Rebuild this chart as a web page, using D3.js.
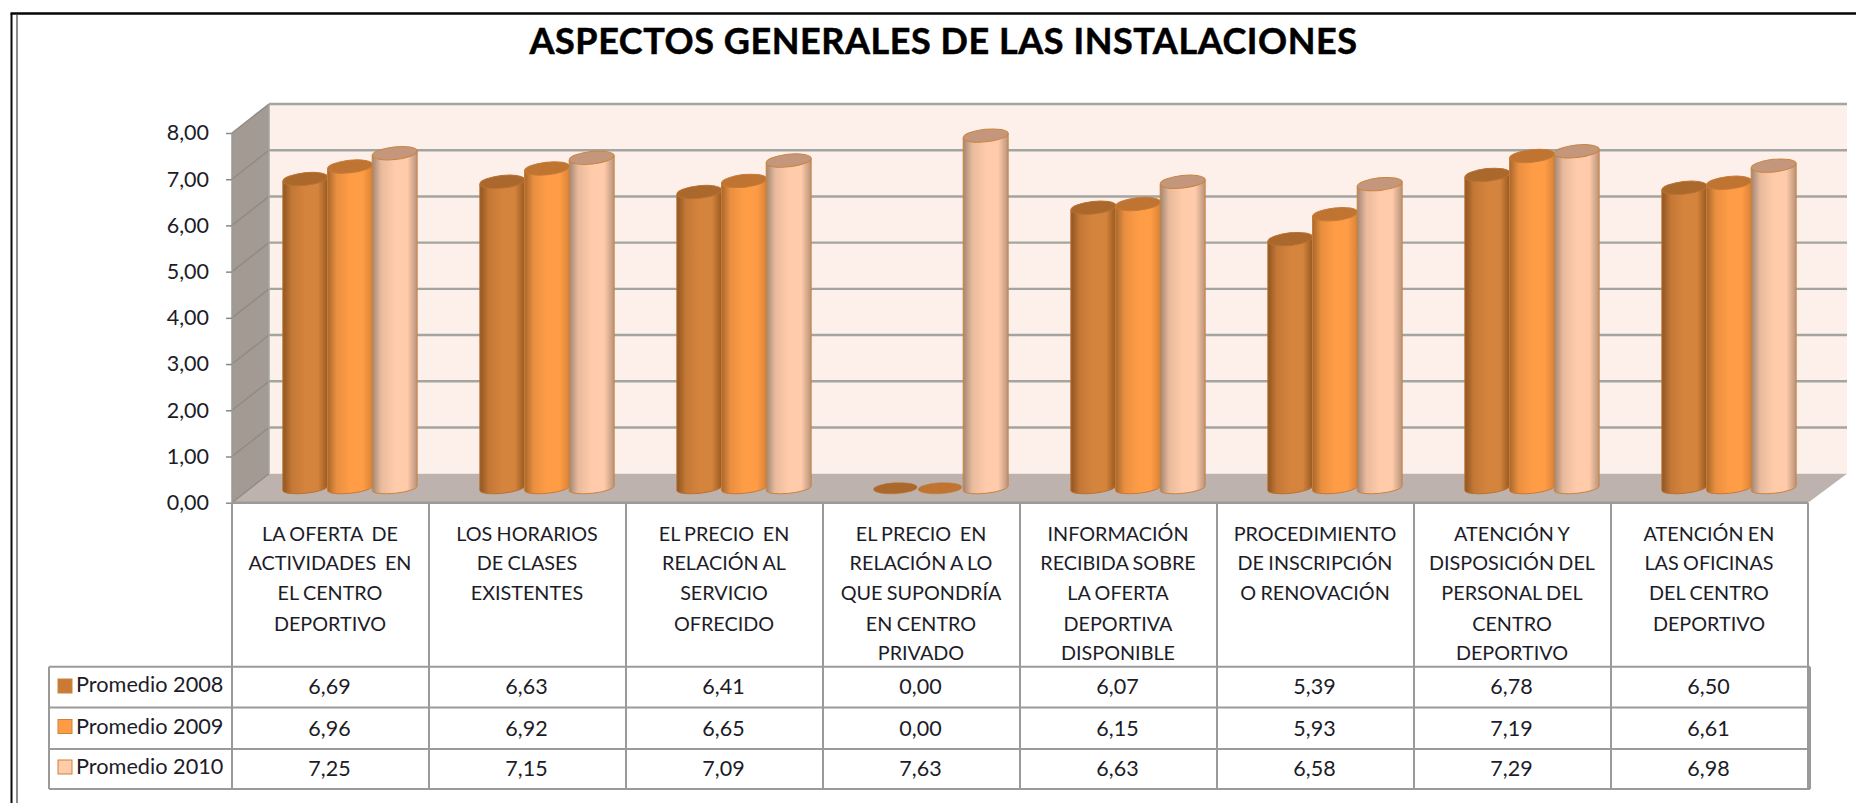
<!DOCTYPE html>
<html><head><meta charset="utf-8">
<style>
html,body{margin:0;padding:0;background:#fff;overflow:hidden}
svg{display:block}
text{font-family:Lato,"Open Sans",sans-serif;fill:#1c1c28}
</style>
<script src="https://cdn.jsdelivr.net/npm/d3@7/dist/d3.min.js"></script>
</head><body><svg id="c" width="1856" height="803"></svg>
<script>
const title = "ASPECTOS GENERALES DE LAS INSTALACIONES";
const categories = [
 ["LA OFERTA  DE","ACTIVIDADES  EN","EL CENTRO","DEPORTIVO"],
 ["LOS HORARIOS","DE CLASES","EXISTENTES"],
 ["EL PRECIO  EN","RELACIÓN AL","SERVICIO","OFRECIDO"],
 ["EL PRECIO  EN","RELACIÓN A LO","QUE SUPONDRÍA","EN CENTRO","PRIVADO"],
 ["INFORMACIÓN","RECIBIDA SOBRE","LA OFERTA","DEPORTIVA","DISPONIBLE"],
 ["PROCEDIMIENTO","DE INSCRIPCIÓN","O RENOVACIÓN"],
 ["ATENCIÓN Y","DISPOSICIÓN DEL","PERSONAL DEL","CENTRO","DEPORTIVO"],
 ["ATENCIÓN EN","LAS OFICINAS","DEL CENTRO","DEPORTIVO"]
];
const seriesNames = ["Promedio 2008","Promedio 2009","Promedio 2010"];
const promedio2008 = [6.69,6.63,6.41,0,6.07,5.39,6.78,6.50];
const promedio2009 = [6.96,6.92,6.65,0,6.15,5.93,7.19,6.61];
const promedio2010 = [7.25,7.15,7.09,7.63,6.63,6.58,7.29,6.98];
const seriesValues = [promedio2008,promedio2009,promedio2010];
const yTicks = [0,1,2,3,4,5,6,7,8];

const svg = d3.select("#c");
const fmt = v => d3.format(".2f")(v).replace(".",",");

// layout
const L=232,R=1808,Y0=502.7,Y8=133,DX=37,DY=29;
const rowLines=[666.7,707.5,749,789], tableL=49, tableR=1810;
const x = d3.scaleBand().domain(d3.range(categories.length)).range([L,R]);
const y = d3.scaleLinear().domain([0,8]).range([Y0,Y8]);
const inner = d3.scaleBand().domain(d3.range(3)).range([0,134]);

const palettes=[
 {edgeL:"#8f5522",mid:"#d5843d",edgeR:"#96591f",top:"#ab682c",stroke:"#b9722f",sw:"#c87a36"},
 {edgeL:"#a8682c",mid:"#ff9c46",edgeR:"#d98336",top:"#c07431",stroke:"#c87a36",sw:"#ff9b45"},
 {edgeL:"#a38672",mid:"#ffcbaa",edgeR:"#b8937b",top:"#c4977c",stroke:"#c9843f",sw:"#ffcbaa"}
];
const defs=svg.append("defs");
palettes.forEach((p,i)=>{
  const g=defs.append("linearGradient").attr("id","g"+i).attr("x1",0).attr("x2",1).attr("y1",0).attr("y2",0);
  [[0,p.edgeL],[.2,d3.interpolateRgb(p.edgeL,p.mid)(.75)],[.5,p.mid],[.78,p.mid],[1,p.edgeR]]
   .forEach(s=>g.append("stop").attr("offset",s[0]).attr("stop-color",s[1]));
});

// frame
svg.append("path").attr("fill","none").attr("stroke","#0a0a0a").attr("stroke-width",2)
 .attr("d","M11.5,803V13.5");
svg.append("path").attr("fill","none").attr("stroke","#050505").attr("stroke-width",2.6)
 .attr("d","M10.5,13.5H1856");
svg.append("path").attr("fill","none").attr("stroke","#7f7f7f").attr("stroke-width",1.8)
 .attr("d","M17,803V15");

// title
svg.append("text").attr("x",943.5).attr("y",53.5).attr("text-anchor","middle")
 .attr("font-size",36).attr("font-weight",700).style("fill","#000").style("stroke","#000").style("stroke-width",.5)
 .style("letter-spacing","0.55px").text(title);

// walls
svg.append("rect").attr("x",L+DX).attr("y",Y8-DY).attr("width",R+DX+2-(L+DX)).attr("height",Y0-Y8).attr("fill","#fdf0eb");
svg.append("path").attr("fill","#a39a93").attr("d",`M${L},${Y8}L${L+DX},${Y8-DY}V${Y0-DY}L${L},${Y0}Z`);
svg.append("path").attr("fill","#bdb2ae").attr("d",`M${L},${Y0}L${L+DX},${Y0-DY}H${R+DX+2}L${R},${Y0}Z`);

// gridlines
const grid=svg.append("g");
yTicks.forEach(t=>{
  if(t>0) grid.append("line").attr("x1",L+DX).attr("x2",R+DX+2).attr("y1",y(t)-DY).attr("y2",y(t)-DY)
    .attr("stroke","#a3a5a0").attr("stroke-width",2.4);
  grid.append("line").attr("x1",L).attr("x2",L+DX).attr("y1",y(t)).attr("y2",y(t)-DY)
    .attr("stroke","#8f8a84").attr("stroke-width",1.4);
});
svg.append("line").attr("x1",L+DX).attr("x2",L+DX).attr("y1",Y8-DY).attr("y2",Y0-DY).attr("stroke","#a3a5a0").attr("stroke-width",1.5);
svg.append("line").attr("x1",L).attr("x2",L).attr("y1",Y8).attr("y2",Y0).attr("stroke","#9a9a98").attr("stroke-width",1.5);

// axis
const axis=svg.append("g").attr("transform",`translate(${L},0)`)
  .call(d3.axisLeft(y).tickValues(yTicks).tickFormat(fmt).tickSize(6).tickPadding(17));
axis.select(".domain").remove();
axis.selectAll("line").attr("stroke","#8a8a8a").attr("stroke-width",1.5);
axis.selectAll("text").attr("font-size",21.5).attr("font-family","Lato").style("fill","#1c1c28");

// cylinders
const rx=22.6, ry=6.3, tilt=-6, rad=tilt*Math.PI/180;
const barOffset=51;
const barsG=svg.append("g");
categories.forEach((c,ci)=>{
  seriesValues.forEach((vals,si)=>{
    const v=vals[ci];
    const cx=x(ci)+barOffset+inner(si)+inner.bandwidth()/2;
    const yb=y(0)-DY/2, yt=y(v)-DY/2;
    const dxE=rx*Math.cos(rad), dyE=rx*Math.sin(rad);
    const p=palettes[si];
    if(v>0){
      barsG.append("path").attr("fill",`url(#g${si})`).attr("stroke",p.stroke).attr("stroke-width",1)
       .attr("d",`M${cx-dxE},${yt-dyE}V${yb-dyE}A${rx} ${ry-1.2} ${tilt} 0 0 ${cx+dxE},${yb+dyE}V${yt+dyE}Z`);
    }
    barsG.append("ellipse").attr("cx",v>0?cx:cx-1).attr("cy",yt).attr("rx",v>0?rx:rx-.8).attr("ry",v>0?ry:ry-.8)
      .attr("transform",`rotate(${v>0?tilt:-3} ${cx} ${yt})`)
      .attr("fill",p.top).attr("stroke",p.stroke).attr("stroke-width",v>0?1:.5);
  });
});
barsG.raise();

// table
const table=svg.append("g").attr("stroke","#9a9a9a").attr("stroke-width",2).attr("fill","none");
table.append("line").attr("x1",L).attr("x2",R).attr("y1",Y0).attr("y2",Y0).attr("stroke-width",2.4);
x.domain().concat([categories.length]).forEach(i=>{
  const xp=i<categories.length?x(i):R;
  table.append("line").attr("x1",xp).attr("x2",xp).attr("y1",Y0).attr("y2",rowLines[3]);
});
rowLines.forEach(r=>table.append("line").attr("x1",tableL).attr("x2",tableR).attr("y1",r).attr("y2",r));
table.append("line").attr("x1",tableL).attr("x2",tableL).attr("y1",rowLines[0]).attr("y2",rowLines[3]);
table.append("line").attr("x1",tableR).attr("x2",tableR).attr("y1",rowLines[0]).attr("y2",rowLines[3]);

// category labels
const lineY=[534,563.5,593,624,653];
categories.forEach((c,i)=>c.forEach((l,j)=>{
  svg.append("text").attr("x",x(i)+x.bandwidth()/2-.5).attr("y",lineY[j]).attr("dy","0.35em")
   .attr("text-anchor","middle").attr("font-size",19.8).style("white-space","pre").style("word-spacing","-0.7px").text(l);
}));
// legend + values
const rowTextY=[686,728,768], legendY=[684,726,766], swatchY=[679,719.5,760];
seriesNames.forEach((n,si)=>{
  svg.append("rect").attr("x",58).attr("y",swatchY[si]).attr("width",14).attr("height",14)
    .attr("fill",palettes[si].sw).attr("stroke","#c9843f").attr("stroke-width",1);
  svg.append("text").attr("x",76).attr("y",legendY[si]).attr("dy","0.35em").attr("font-size",21.7).text(n);
  seriesValues[si].forEach((v,ci)=>{
    svg.append("text").attr("x",x(ci)+x.bandwidth()/2-1).attr("y",rowTextY[si]).attr("dy","0.35em")
      .attr("text-anchor","middle").attr("font-size",21.5).text(fmt(v));
  });
});
</script></body></html>
